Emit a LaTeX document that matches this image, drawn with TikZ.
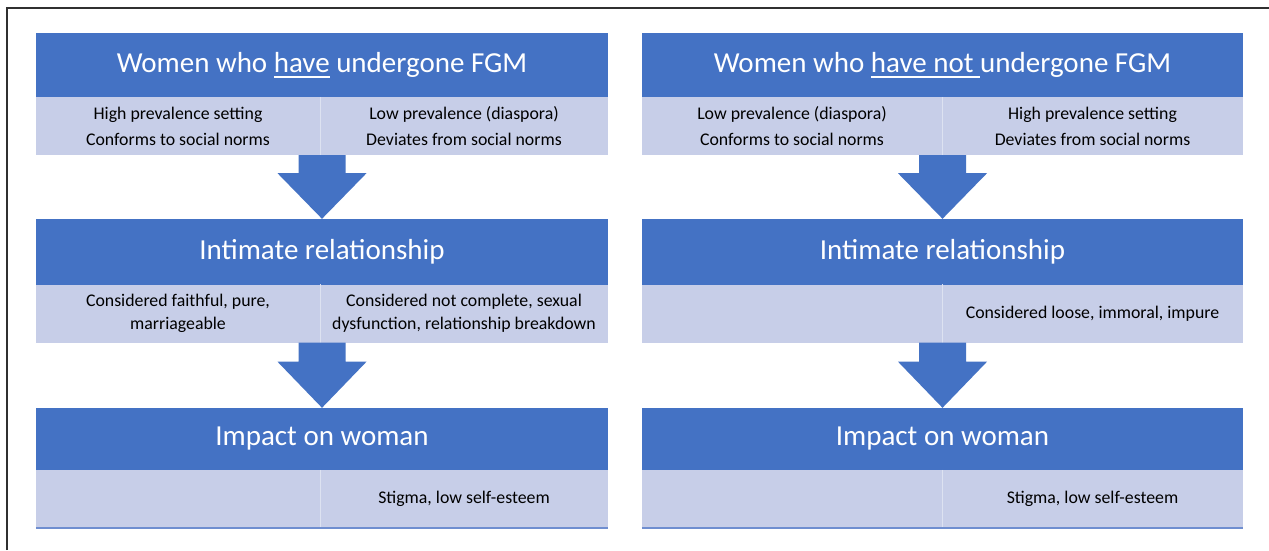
\documentclass[tikz,border=0pt]{standalone}
\usepackage{fontspec}
\setmainfont{Carlito}
\usetikzlibrary{calc}
\definecolor{hdrblue}{HTML}{4472C4}
\definecolor{cellblue}{HTML}{C7CEE8}
\definecolor{linebl}{HTML}{6F8ED0}
\definecolor{framec}{HTML}{303030}
\newcommand\myul[1]{\setbox0\hbox{#1}\rlap{\rule[-6pt]{\wd0}{1.6pt}}\box0\relax}
\begin{document}
\begin{tikzpicture}[x=1pt,y=-1pt,
  hdr/.style={fill=hdrblue, inner sep=0pt, minimum height=64pt, text=white,
    font=\fontsize{29}{32}\selectfont},
  cell/.style={fill=cellblue, inner sep=0pt, minimum height=58pt, text=black,
    align=center, font=\fontsize{17.8}{26}\selectfont},
  fat/.style={fill=hdrblue},
]
\useasboundingbox (0,0) rectangle (1269,550);
\fill[white] (0,0) rectangle (1269,550);
\draw[framec, line width=1.5pt] (7,550) -- (7,8) -- (1269,8);

% ---------- left column ----------
\node[hdr, minimum width=572pt] (h1) at (322,65) {Women who \myul{have} undergone FGM};
\node[cell, minimum width=284pt] (s1l) at (178,126) {High prevalence setting\\Conforms to social norms};
\node[cell, minimum width=288pt] (s1r) at (464,126) {Low prevalence (diaspora)\\Deviates from social norms};

\node[hdr, minimum width=572pt, minimum height=66pt] (h2) at (322,252) {Intimate relationship};
\node[cell, minimum width=284pt, font=\fontsize{17.8}{23}\selectfont] (s2l) at (178,313.5) {Considered faithful, pure,\\marriageable};
\node[cell, minimum width=288pt, font=\fontsize{17.8}{23}\selectfont] (s2r) at (464,313.5) {Considered not complete, sexual\\dysfunction, relationship breakdown};

\node[hdr, minimum width=572pt, minimum height=62pt] (h3) at (322,439) {Impact on woman};
\node[cell, minimum width=284pt] (s3l) at (178,499) {};
\node[cell, minimum width=288pt] (s3r) at (464,499) {Stigma, low self-esteem};

% ---------- right column ----------
\node[hdr, minimum width=601pt] (rh1) at (942.5,65) {Women who \myul{have not\ }undergone FGM};
\node[cell, minimum width=300pt] (rs1l) at (792,126) {Low prevalence (diaspora)\\Conforms to social norms};
\node[cell, minimum width=301pt] (rs1r) at (1092.5,126) {High prevalence setting\\Deviates from social norms};

\node[hdr, minimum width=601pt, minimum height=66pt] (rh2) at (942.5,252) {Intimate relationship};
\node[cell, minimum width=300pt] (rs2l) at (792,313.5) {};
\node[cell, minimum width=301pt] (rs2r) at (1092.5,313.5) {Considered loose, immoral, impure};

\node[hdr, minimum width=601pt, minimum height=62pt] (rh3) at (942.5,439) {Impact on woman};
\node[cell, minimum width=300pt] (rs3l) at (792,499) {};
\node[cell, minimum width=301pt] (rs3r) at (1092.5,499) {Stigma, low self-esteem};

% cell dividers and bottom rules
\foreach \a/\b in {s1l/s1r,s2l/s2r,s3l/s3r,rs1l/rs1r,rs2l/rs2r,rs3l/rs3r}
  \draw[white!40!cellblue, line width=1pt] (\a.north east) -- (\a.south east);
\draw[linebl, line width=2.5pt] (s3l.south west) -- (s3r.south east);
\draw[linebl, line width=2.5pt] (rs3l.south west) -- (rs3r.south east);

% ---------- block arrows ----------
\foreach \top/\bot/\sh in {s1l/h2/18, s2l/h3/19, rs1l/rh2/18, rs2l/rh3/19}{
  \coordinate (t) at (\top.south east);
  \coordinate (p) at (\bot.north);
  \coordinate (a) at (p |- t);
  \fill[fat] ($(a)+(-23.5,0)$) -- ($(a)+(23.5,0)$) -- ($(a)+(23.5,\sh)$) -- ($(a)+(44.5,\sh)$)
     -- (p) -- ($(a)+(-44.5,\sh)$) -- ($(a)+(-23.5,\sh)$) -- cycle;
}
\end{tikzpicture}
\end{document}
